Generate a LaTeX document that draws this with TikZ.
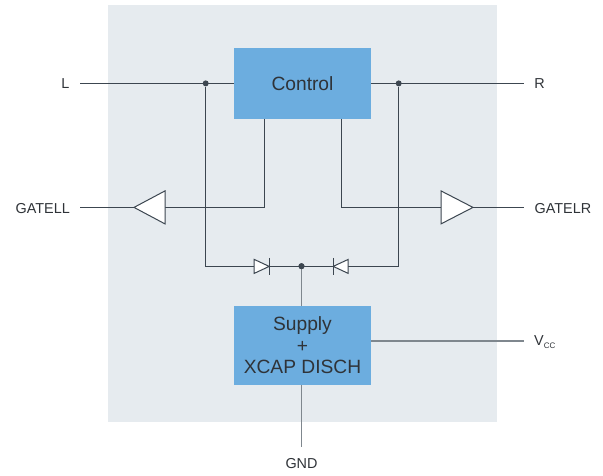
\documentclass[tikz,border=0pt]{standalone}
\usepackage{fontspec}
\setmainfont{Liberation Sans}
\usetikzlibrary{calc}
\definecolor{panelc}{HTML}{E6EBEF}
\definecolor{boxc}{HTML}{6CADDF}
\definecolor{linec}{HTML}{3C4650}
\definecolor{greyc}{HTML}{7F878E}
\definecolor{textc}{HTML}{2F3338}
\tikzset{
  x=1pt,y=-1pt,
  wire/.style={draw=linec,line width=1pt},
  greywire/.style={draw=greyc,line width=1.6pt},
  block/.style={fill=boxc,draw=none,text=textc,minimum width=137pt,align=center,font=\fontsize{19.2}{21.5}\selectfont,inner sep=0pt},
  lab/.style={text=textc,font=\fontsize{14.4}{16}\selectfont,inner sep=0pt},
  tri/.style={draw=linec,line width=1pt,fill=white,line join=miter},
  junction/.style={circle,fill=linec,draw=none,minimum size=6pt,inner sep=0pt},
}
\begin{document}
\begin{tikzpicture}
\useasboundingbox (0,0) rectangle (603,476);
\fill[panelc] (108,5) rectangle (497,422);
% named points
\coordinate (lEnd) at (80,83.4);
\coordinate (rEnd) at (524,83.4);
\coordinate (glEnd) at (80,207.4);
\coordinate (grEnd) at (524,207.4);
\coordinate (vEnd) at (524,341);
\coordinate (gEnd) at (301.5,447);
\coordinate (ltTip) at (134,207.4);
\coordinate (ltBase) at (165,207.4);
\coordinate (rtBase) at (441,207.4);
\coordinate (rtTip) at (473,207.4);
\coordinate (dlA) at (254.2,266.4);
\coordinate (dlK) at (269.2,266.4);
\coordinate (drK) at (333.2,266.4);
\coordinate (drA) at (348.2,266.4);
\coordinate (cnl) at (264.7,119);
\coordinate (cnr) at (341.7,119);
\coordinate (cl) at (234,83.4);
\coordinate (cr) at (371,83.4);
\coordinate (sr) at (371,341);
\coordinate (jcl) at (205.7,266.4);
\coordinate (jcr) at (398.7,266.4);
% blocks
\node[block,minimum height=71pt] (ctrl) at (302.5,83.5) {Control};
\node[block,minimum height=79pt] (sup) at (302.5,345.5) {Supply\\+\\XCAP DISCH};
% wires
\draw[wire] (lEnd) -- (cl);
\draw[wire] (cr) -- (rEnd);
\node[junction] (jl) at (205.7,83.4) {};
\node[junction] (jr) at (398.7,83.4) {};
\node[junction] (jm) at (301.5,266.2) {};
\draw[wire] (jl) -- (jcl) -- (dlA);
\draw[wire] (jr) -- (jcr) -- (drA);
\draw[wire] (dlK) -- (drK);
\draw[greywire] (jm) -- (sup.north -| jm);
\draw[wire] (cnl) -- (cnl |- ltBase) -- (ltBase);
\draw[wire] (cnr) -- (cnr |- rtBase) -- (rtBase);
\draw[wire] (glEnd) -- (ltTip);
\draw[wire] (rtTip) -- (grEnd);
\draw[greywire] (sr) -- (vEnd);
\draw[greywire] (sup.south -| gEnd) -- (gEnd);
% buffers
\draw[tri] (ltTip) -- ($(ltBase)+(0,-16.5)$) -- ($(ltBase)+(0,16.5)$) -- cycle;
\draw[tri] (rtTip) -- ($(rtBase)+(0,-16.5)$) -- ($(rtBase)+(0,16.5)$) -- cycle;
% diodes
\draw[tri] (dlK) -- ($(dlA)+(0,-7)$) -- ($(dlA)+(0,7)$) -- cycle;
\draw[wire] ($(dlK)+(0,-8.5)$) -- ($(dlK)+(0,8.5)$);
\draw[tri] (drK) -- ($(drA)+(0,-7)$) -- ($(drA)+(0,7)$) -- cycle;
\draw[wire] ($(drK)+(0,-8.5)$) -- ($(drK)+(0,8.5)$);
\node[junction] at (jm) {};
% labels
\node[lab] (tL) at (65.5,83.5) {L};
\node[lab] (tR) at (539.5,83.5) {R};
\node[lab,anchor=east] (tGL) at (70,208.5) {GATELL};
\node[lab,anchor=west] (tGR) at (534.5,208.5) {GATELR};
\node[lab,anchor=west] (tV) at (534,342) {V\raisebox{-3.5pt}{\fontsize{8}{8}\selectfont CC}};
\node[lab] (tG) at (301.5,463.5) {GND};
\end{tikzpicture}
\end{document}
